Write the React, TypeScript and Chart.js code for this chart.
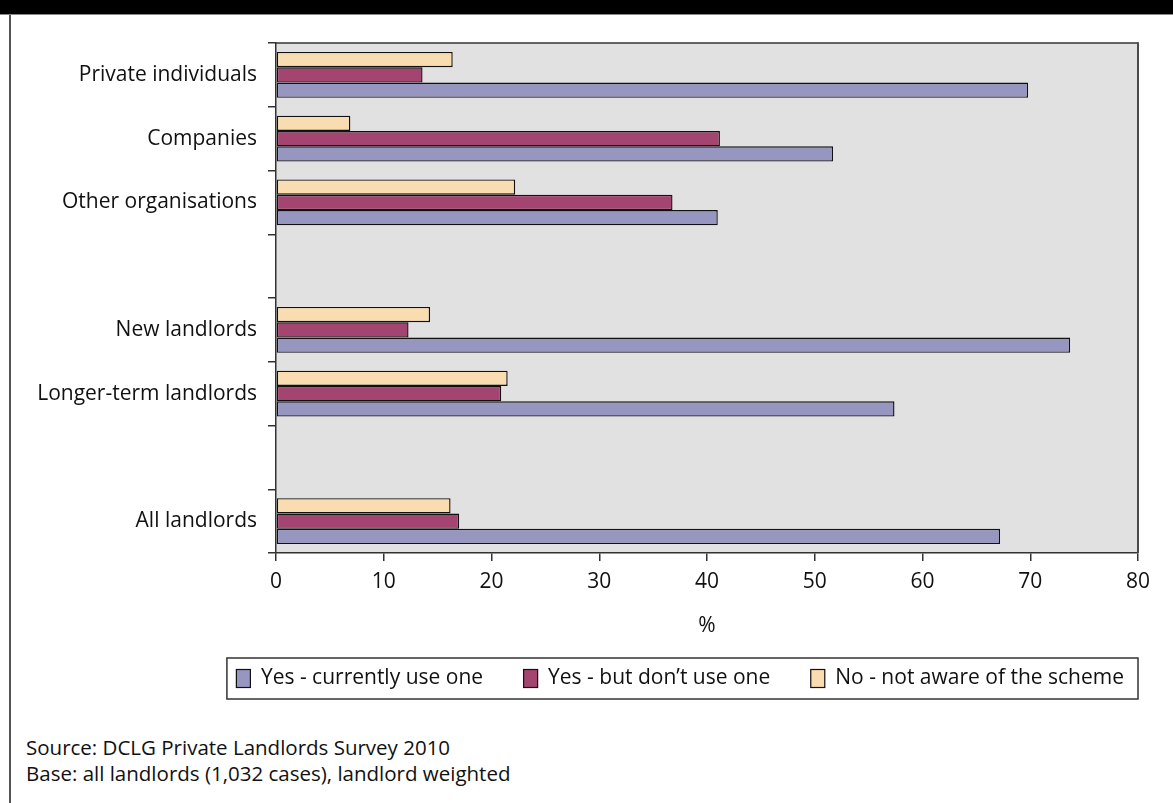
import React, { useEffect, useRef } from 'react';
import { Chart, registerables } from 'chart.js';

Chart.register(...registerables);

// ---- Data ----
const categories = [
  'Private individuals',
  'Companies',
  'Other organisations',
  '',
  'New landlords',
  'Longer-term landlords',
  '',
  'All landlords',
];
const currentlyUse = [69.8, 51.7, 41.0, null, 73.7, 57.4, null, 67.2];
const awareNotUsing = [13.6, 41.2, 36.8, null, 12.3, 20.9, null, 17.0];
const notAware = [16.4, 6.9, 22.2, null, 14.3, 21.5, null, 16.2];
const seriesLabels = ['Yes - currently use one', 'Yes - but don\u2019t use one', 'No - not aware of the scheme'];
const seriesColors = ['#9796c1', '#a44571', '#fadcb1'];
const xTicks = [0, 10, 20, 30, 40, 50, 60, 70, 80];
const xAxisTitle = '%';
const sourceLines = [
  'Source: DCLG Private Landlords Survey 2010',
  'Base: all landlords (1,032 cases), landlord weighted',
];

// ---- Layout constants ----
const W = 1173;
const CANVAS_H = 705;
const PLOT_LEFT = 276;
const PLOT_RIGHT = 1138;
const PLOT_TOP = 43;
const PLOT_BOTTOM = 553;
const FONT = "'Open Sans', sans-serif";
const TEXT = '#111111';
const AXIS = '#333333';

const plotFrame = {
  id: 'plotFrame',
  beforeDraw(chart: any) {
    const { ctx, chartArea: a } = chart;
    ctx.save();
    ctx.fillStyle = '#e1e1e1';
    ctx.fillRect(a.left, a.top, a.right - a.left, a.bottom - a.top);
    ctx.restore();
  },
  afterDatasetsDraw(chart: any) {
    const { ctx, chartArea: a } = chart;
    ctx.save();
    ctx.strokeStyle = AXIS;
    ctx.lineWidth = 1.5;
    ctx.beginPath();
    ctx.moveTo(a.left, a.top);
    ctx.lineTo(a.right, a.top);
    ctx.stroke();
    ctx.strokeStyle = '#4a4a4a';
    ctx.lineWidth = 2;
    ctx.beginPath();
    ctx.moveTo(a.right, a.top - 0.75);
    ctx.lineTo(a.right, a.bottom);
    ctx.stroke();
    ctx.restore();
  },
};

const boxedLegend = {
  id: 'boxedLegend',
  afterDraw(chart: any) {
    const { ctx, chartArea } = chart;
    const ds = chart.data.datasets.slice().reverse();
    ctx.save();
    ctx.font = `21px ${FONT}`;
    const sw = 15, sh = 19, gapText = 10, gapItem = 40, padL = 9, padR = 14;
    const widths = ds.map((d: any) => ctx.measureText(d.label).width);
    const total =
      padL + padR +
      widths.reduce((s: number, w: number) => s + sw + gapText + w, 0) +
      gapItem * (ds.length - 1);
    const right = chartArea.right;
    const left = right - total;
    const top = chartArea.bottom + 105;
    const bottom = top + 41;
    ctx.fillStyle = '#ffffff';
    ctx.fillRect(left, top, right - left, bottom - top);
    ctx.strokeStyle = AXIS;
    ctx.lineWidth = 1.5;
    ctx.strokeRect(left, top, right - left, bottom - top);
    const cy = (top + bottom) / 2;
    let x = left + padL;
    ds.forEach((d: any, i: number) => {
      ctx.fillStyle = d.backgroundColor;
      ctx.fillRect(x, cy - sh / 2, sw, sh);
      ctx.strokeStyle = '#111';
      ctx.lineWidth = 1.2;
      ctx.strokeRect(x + 0.5, cy - sh / 2 + 0.5, sw - 1, sh - 1);
      x += sw + gapText;
      ctx.fillStyle = TEXT;
      ctx.textAlign = 'left';
      ctx.textBaseline = 'middle';
      ctx.fillText(d.label, x, cy);
      x += widths[i] + gapItem;
    });
    ctx.restore();
  },
};

function BarChart() {
  const ref = useRef<HTMLCanvasElement>(null);
  useEffect(() => {
    if (!ref.current) return;
    const barCommon = {
      borderColor: '#111111',
      borderWidth: 1.4,
      borderSkipped: false,
      categoryPercentage: 0.72,
      barPercentage: 1.0,
    };
    const chart = new Chart(ref.current, {
      type: 'bar',
      data: {
        labels: categories,
        datasets: [
          { label: seriesLabels[2], data: notAware, backgroundColor: seriesColors[2], ...barCommon },
          { label: seriesLabels[1], data: awareNotUsing, backgroundColor: seriesColors[1], ...barCommon },
          { label: seriesLabels[0], data: currentlyUse, backgroundColor: seriesColors[0], ...barCommon },
        ] as any,
      },
      options: {
        indexAxis: 'y',
        responsive: false,
        animation: false,
        devicePixelRatio: 1,
        layout: { padding: { top: PLOT_TOP, left: 0, right: W - PLOT_RIGHT, bottom: 0 } },
        plugins: {
          legend: { display: false },
          tooltip: { enabled: false },
          title: { display: false },
        },
        scales: {
          x: {
            type: 'linear',
            min: 0,
            max: 80,
            afterBuildTicks: (scale: any) => {
              scale.ticks = xTicks.map((v) => ({ value: v }));
            },
            afterFit: (scale: any) => {
              scale.height = CANVAS_H - PLOT_BOTTOM;
            },
            grid: {
              drawOnChartArea: false,
              drawTicks: true,
              tickLength: 8,
              color: AXIS,
              lineWidth: 1.5,
            },
            border: { display: true, color: AXIS, width: 1.5 },
            ticks: {
              color: TEXT,
              padding: 8,
              font: { family: FONT, size: 21 },
            },
            title: {
              display: true,
              text: xAxisTitle,
              color: TEXT,
              font: { family: FONT, size: 21 },
              padding: { top: 4, bottom: CANVAS_H - 626 - 12.6 },
            },
          },
          y: {
            type: 'category',
            afterFit: (scale: any) => {
              scale.width = PLOT_LEFT;
            },
            grid: {
              offset: true,
              drawOnChartArea: false,
              drawTicks: true,
              tickLength: 8,
              color: AXIS,
              lineWidth: 1.5,
            },
            border: { display: true, color: AXIS, width: 1.5 },
            ticks: {
              color: TEXT,
              padding: 11,
              autoSkip: false,
              font: { family: FONT, size: 21 },
            },
          },
        },
      } as any,
      plugins: [plotFrame, boxedLegend],
    });
    return () => chart.destroy();
  }, []);
  return (
    <canvas
      ref={ref}
      width={W}
      height={CANVAS_H}
      style={{ position: 'absolute', left: 0, top: 0, width: W, height: CANVAS_H }}
    />
  );
}

export default function App() {
  return (
    <div
      style={{
        position: 'absolute',
        left: 0,
        top: 0,
        width: W,
        height: 803,
        background: '#ffffff',
        overflow: 'hidden',
        fontFamily: FONT,
      }}
    >
      <BarChart />
      <div style={{ position: 'absolute', left: 0, top: 0, width: W, height: 14, background: '#000' }} />
      <div style={{ position: 'absolute', left: 0, top: 14, width: W, height: 1, background: '#888' }} />
      <div style={{ position: 'absolute', left: 9, top: 15, width: 2, height: 788, background: '#555' }} />
      <div
        style={{
          position: 'absolute',
          left: 26,
          top: 734,
          fontSize: 20.5,
          lineHeight: '26px',
          color: TEXT,
          whiteSpace: 'nowrap',
        }}
      >
        {sourceLines.map((s, i) => (
          <div key={i}>{s}</div>
        ))}
      </div>
    </div>
  );
}
